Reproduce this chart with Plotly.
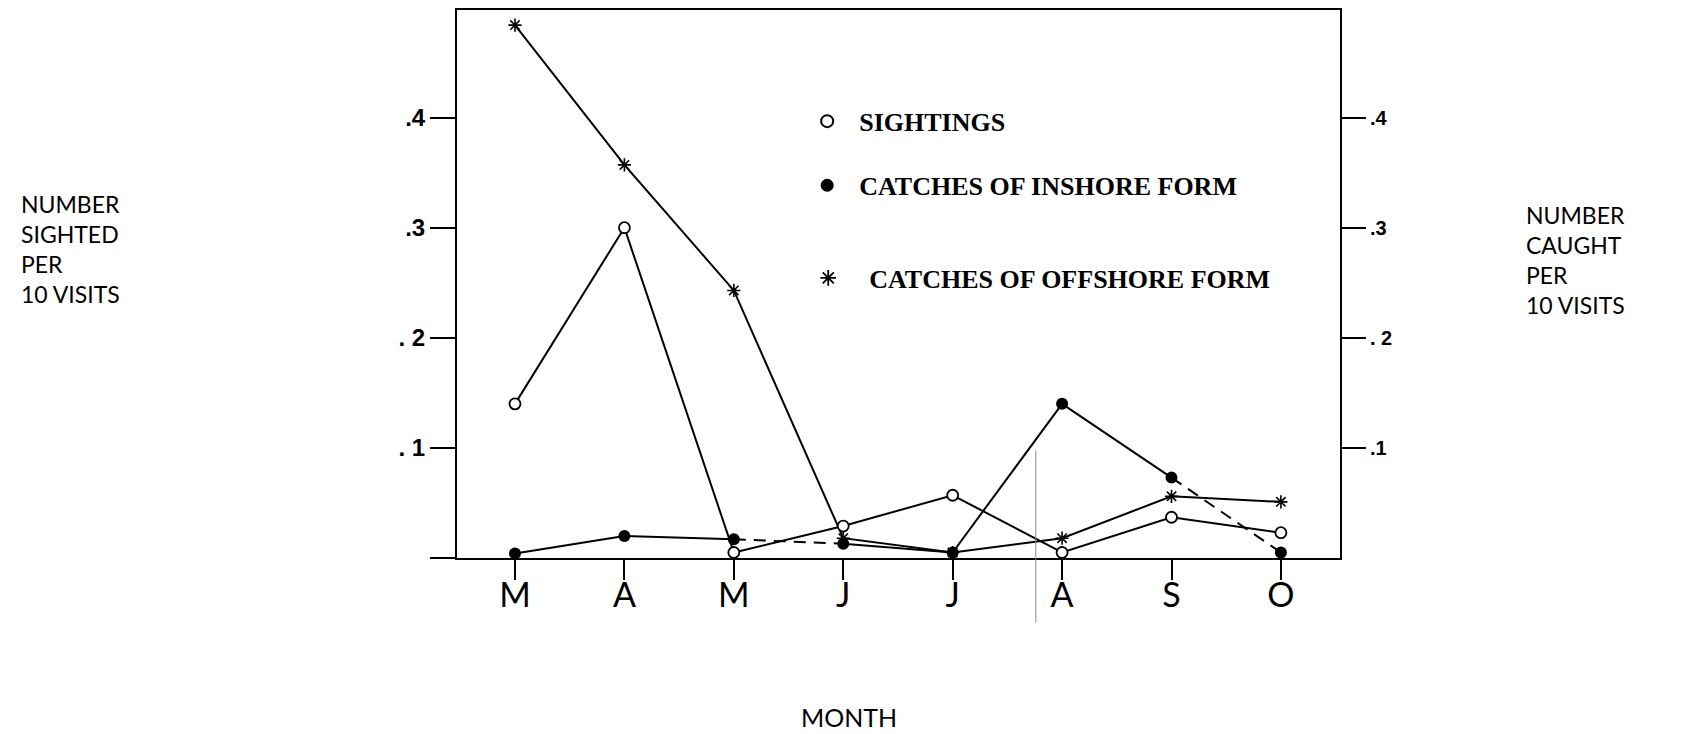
import plotly.graph_objects as go

# Monthly survey results, March through October
months = ["M", "A", "M", "J", "J", "A", "S", "O"]
sightings = [0.14, 0.30, 0.005, 0.029, 0.057, 0.005, 0.037, 0.023]
inshore = [0.004, 0.020, 0.017, 0.013, 0.005, 0.140, 0.073, 0.005]
offshore = [0.484, 0.357, 0.243, 0.018, 0.005, 0.018, 0.056, 0.051]

left_tickvals = [0, 0.1, 0.2, 0.3, 0.4]
left_ticktext = ["", ". 1", ". 2", ".3", ".4"]
right_tickvals = [0.1, 0.2, 0.3, 0.4]
right_ticktext = [".1", ". 2", ".3", ".4"]

# dash style of each inshore segment (between consecutive months)
inshore_seg_dash = ["solid", "solid", "12px,8px", "solid", "solid", "solid", "12px,8px"]

x = list(range(len(months)))
BLACK = "black"
LW = 2

fig = go.Figure()

# connecting lines
fig.add_trace(go.Scatter(x=x, y=offshore, mode="lines",
                         line=dict(color=BLACK, width=LW), showlegend=False, hoverinfo="skip"))
fig.add_trace(go.Scatter(x=x, y=sightings, mode="lines",
                         line=dict(color=BLACK, width=LW), showlegend=False, hoverinfo="skip"))
for i, dash in enumerate(inshore_seg_dash):
    fig.add_trace(go.Scatter(x=x[i:i + 2], y=inshore[i:i + 2], mode="lines",
                             line=dict(color=BLACK, width=LW, dash=dash),
                             showlegend=False, hoverinfo="skip"))

# point markers
fig.add_trace(go.Scatter(x=x, y=offshore, mode="markers", showlegend=False,
                         marker=dict(symbol="asterisk-open", size=11, color=BLACK,
                                     line=dict(color=BLACK, width=1.6))))
fig.add_trace(go.Scatter(x=x, y=inshore, mode="markers", showlegend=False,
                         marker=dict(symbol="circle", size=12, color=BLACK,
                                     line=dict(color=BLACK, width=0))))
fig.add_trace(go.Scatter(x=x, y=sightings, mode="markers", showlegend=False,
                         marker=dict(symbol="circle", size=11, color="white",
                                     line=dict(color=BLACK, width=1.8))))

# key entries, one small legend box per entry
legend_items = [
    ("SIGHTINGS", "legend",
     dict(symbol="circle", size=12, color="white", line=dict(color=BLACK, width=2))),
    ("CATCHES OF INSHORE FORM", "legend2",
     dict(symbol="circle", size=13, color=BLACK, line=dict(width=0))),
    ("CATCHES OF OFFSHORE FORM", "legend3",
     dict(symbol="asterisk-open", size=13, color=BLACK, line=dict(color=BLACK, width=1.8))),
]
for name, lg, mk in legend_items:
    fig.add_trace(go.Scatter(x=[None], y=[None], mode="markers", name=name,
                             marker=mk, legend=lg, showlegend=True))

# thin vertical crease line
fig.add_shape(type="line", xref="x", yref="paper", x0=4.76, x1=4.76, y0=0.196, y1=-0.118,
              line=dict(color="#888888", width=1))

axis_title_font = dict(family="Lato, Noto Sans, sans-serif", size=23, color=BLACK)

fig.add_annotation(text="NUMBER<br>SIGHTED<br>PER<br>10 VISITS", xref="paper", yref="paper",
                   x=-0.496, y=0.564, xanchor="left", yanchor="middle", align="left",
                   showarrow=False, font=axis_title_font)
fig.add_annotation(text="NUMBER<br>CAUGHT<br>PER<br>10 VISITS", xref="paper", yref="paper",
                   x=1.208, y=0.544, xanchor="left", yanchor="middle", align="left",
                   showarrow=False, font=axis_title_font)
fig.add_annotation(text="MONTH", xref="paper", yref="paper", x=0.444, y=-0.291,
                   xanchor="center", yanchor="middle", showarrow=False,
                   font=dict(family="Lato, Noto Sans, sans-serif", size=25, color=BLACK))

key_font = dict(family="Liberation Serif, Times New Roman, serif", size=26, color=BLACK,
                weight="bold")


def key_box(xpos, ypos, iw):
    return dict(x=xpos, y=ypos, xanchor="left", yanchor="middle", font=key_font,
                bgcolor="rgba(0,0,0,0)", itemwidth=iw)


fig.update_layout(
    width=1695, height=734,
    margin=dict(l=457, r=355, t=8, b=176),
    paper_bgcolor="white", plot_bgcolor="white",
    showlegend=True,
    legend=key_box(0.383, 0.797, 54),
    legend2=key_box(0.383, 0.680, 54),
    legend3=key_box(0.374, 0.511, 72),
    xaxis=dict(range=[-0.53, 7.54], tickvals=x, ticktext=months,
               showgrid=False, zeroline=False, showline=True, mirror=True,
               linecolor=BLACK, linewidth=LW, ticks="outside", ticklen=20, tickwidth=LW,
               tickcolor=BLACK, ticklabelstandoff=-14,
               tickfont=dict(family="Lato, Noto Sans, sans-serif", size=34, color=BLACK)),
    yaxis=dict(range=[0, 0.4977], tickvals=left_tickvals, ticktext=left_ticktext,
               showgrid=False, zeroline=False, showline=True, mirror=True,
               linecolor=BLACK, linewidth=LW, ticks="outside", ticklen=25, tickwidth=LW,
               tickcolor=BLACK,
               tickfont=dict(family="Liberation Sans, Arial, sans-serif", size=24,
                             color=BLACK, weight="bold")),
    yaxis2=dict(range=[0, 0.4977], overlaying="y", side="right",
                tickvals=right_tickvals, ticktext=right_ticktext,
                showgrid=False, zeroline=False, showline=False,
                ticks="outside", ticklen=25, tickwidth=LW, tickcolor=BLACK,
                tickfont=dict(family="Liberation Sans, Arial, sans-serif", size=20,
                              color=BLACK, weight="bold")),
)

# invisible trace to bring the right-hand axis into existence
fig.add_trace(go.Scatter(x=[None], y=[None], yaxis="y2", showlegend=False, hoverinfo="skip"))

fig.write_html("out.html")
